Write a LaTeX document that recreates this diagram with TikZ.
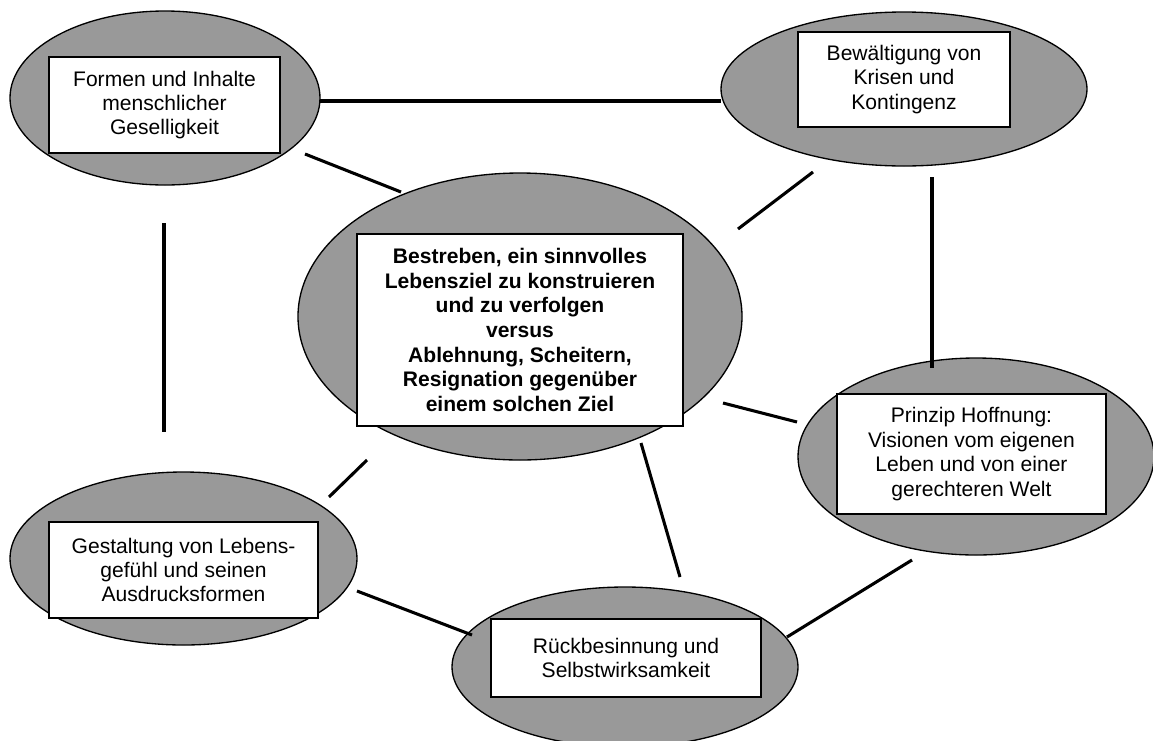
\documentclass[tikz,border=0pt]{standalone}
\usepackage{fontspec}
\setmainfont{Liberation Sans}
\usetikzlibrary{shapes.geometric}
\definecolor{ellgray}{RGB}{153,153,153}
\tikzset{
  ell/.style={ellipse, draw=black, line width=1pt, fill=ellgray, inner sep=0pt},
  txtbox/.style={rectangle, draw=black, line width=1.2pt, fill=white, align=center, inner sep=0pt,
                 font=\fontsize{15.8}{18.3}\selectfont},
  conn/.style={draw=black, line width=2.3pt}
}
\begin{document}
\begin{tikzpicture}[x=0.75pt,y=-0.75pt]
\useasboundingbox (0,0) rectangle (1153,740);
% ellipses
\node[ell, minimum width=232.5pt, minimum height=130.5pt] (e1) at (165,98) {};
\node[ell, minimum width=274.5pt, minimum height=115.5pt] (e2) at (904,89) {};
\node[ell, minimum width=333pt, minimum height=215.25pt] (e3) at (520,316.5) {};
\node[ell, minimum width=267pt, minimum height=147.75pt] (e4) at (976,456.5) {};
\node[ell, minimum width=260.25pt, minimum height=129.75pt] (e5) at (183.5,558.5) {};
\node[ell, minimum width=259.5pt, minimum height=120pt] (e6) at (625,667) {};
% text boxes
\node[txtbox, minimum width=173.25pt, minimum height=72pt] (t1) at (164.5,105) {Formen und Inhalte\\menschlicher\\Geselligkeit};
\node[txtbox, minimum width=159pt, minimum height=71.25pt] (t2) at (904,79.5) {Bewältigung von\\Krisen und\\Kontingenz};
\node[txtbox, minimum width=244.5pt, minimum height=144pt, font=\fontsize{15.8}{18.5}\selectfont\bfseries] (t3) at (520,330) {Bestreben, ein sinnvolles\\Lebensziel zu konstruieren\\und zu verfolgen\\versus\\Ablehnung, Scheitern,\\Resignation gegenüber\\einem solchen Ziel};
\node[txtbox, minimum width=201.75pt, minimum height=90pt] (t4) at (971.5,454) {Prinzip Hoffnung:\\Visionen vom eigenen\\Leben und von einer\\gerechteren Welt};
\node[txtbox, minimum width=201.75pt, minimum height=72pt] (t5) at (183.5,570) {Gestaltung von Lebens-\\gefühl und seinen\\Ausdrucksformen};
\node[txtbox, minimum width=202.5pt, minimum height=58.5pt] (t6) at (626,658) {Rückbesinnung und\\Selbstwirksamkeit};
% connector end points
\coordinate (a1) at (320,101);  \coordinate (b1) at (721,101);
\coordinate (a2) at (305,154);  \coordinate (b2) at (401,192);
\coordinate (a3) at (164,223);  \coordinate (b3) at (164,432);
\coordinate (a4) at (367,460);  \coordinate (b4) at (329,497);
\coordinate (a5) at (813,172);  \coordinate (b5) at (738,229);
\coordinate (a6) at (932,177);  \coordinate (b6) at (932,368);
\coordinate (a7) at (723,403);  \coordinate (b7) at (797,422);
\coordinate (a8) at (641,443);  \coordinate (b8) at (680,577);
\coordinate (a9) at (912,560);  \coordinate (b9) at (787,637);
\coordinate (a10) at (357,591); \coordinate (b10) at (472,635);
\draw[conn] (a1) -- (b1);
\draw[conn] (a2) -- (b2);
\draw[conn] (a3) -- (b3);
\draw[conn] (a4) -- (b4);
\draw[conn] (a5) -- (b5);
\draw[conn] (a6) -- (b6);
\draw[conn] (a7) -- (b7);
\draw[conn] (a8) -- (b8);
\draw[conn] (a9) -- (b9);
\draw[conn] (a10) -- (b10);
\end{tikzpicture}
\end{document}
